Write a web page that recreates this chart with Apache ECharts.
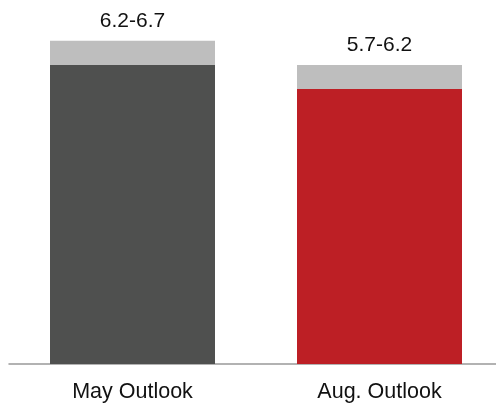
<!DOCTYPE html>
<html>
<head>
<meta charset="utf-8">
<script src="https://cdn.jsdelivr.net/npm/echarts@6/dist/echarts.min.js"></script>
<style>
  html, body { margin: 0; padding: 0; background: #fff; }
  #chart { width: 496px; height: 404px; }
</style>
</head>
<body>
<div id="chart"></div>
<script>
const categories = ['May Outlook', 'Aug. Outlook'];
const lowValues = [6.2, 5.7];
const rangeValues = [0.5, 0.5];
const rangeLabels = ['6.2-6.7', '5.7-6.2'];
const baseColors = ['#4f504f', '#bd1f25'];

const chart = echarts.init(document.getElementById('chart'));

chart.setOption({
  animation: false,
  grid: { left: 9, width: 494, top: 26.4, bottom: 40, outerBoundsMode: 'none', containLabel: false },
  xAxis: {
    type: 'category',
    data: categories,
    axisTick: { show: false },
    axisLine: { lineStyle: { color: '#999', width: 1.5 } },
    axisLabel: {
      color: '#111',
      fontSize: 21.5,
      fontFamily: 'Liberation Sans, Arial, sans-serif',
      margin: 17
    }
  },
  yAxis: {
    type: 'value',
    min: 0,
    max: 7,
    show: false,
    splitLine: { show: false }
  },
  series: [
    {
      type: 'bar',
      stack: 'outlook',
      barWidth: 165,
      data: lowValues.map((v, i) => ({ value: v, itemStyle: { color: baseColors[i] } }))
    },
    {
      type: 'bar',
      stack: 'outlook',
      barWidth: 165,
      itemStyle: { color: '#bebebe' },
      data: rangeValues,
      label: {
        show: true,
        position: 'top',
        distance: 9,
        color: '#111',
        fontSize: 21,
        fontFamily: 'Liberation Sans, Arial, sans-serif',
        formatter: (p) => rangeLabels[p.dataIndex]
      }
    }
  ]
});
</script>
</body>
</html>
